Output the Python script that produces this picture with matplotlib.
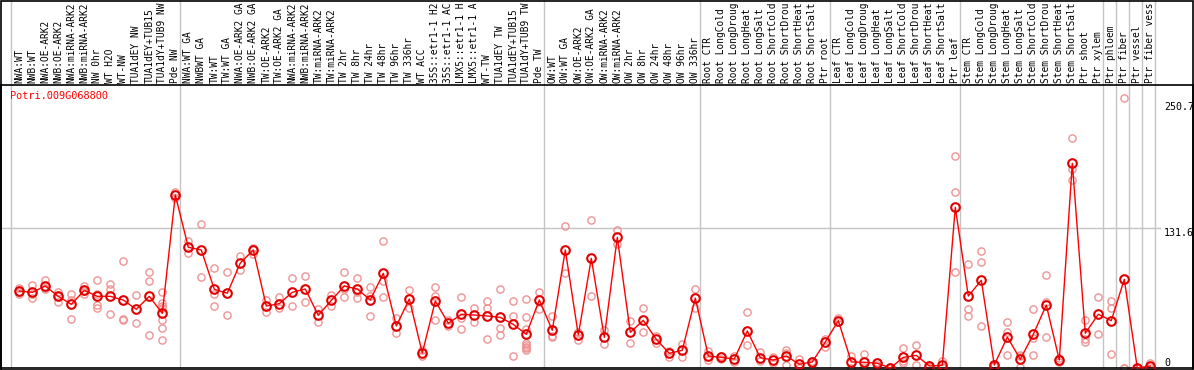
import matplotlib
matplotlib.use("Agg")
import matplotlib.pyplot as plt
from matplotlib.transforms import blended_transform_factory
from matplotlib.patches import Rectangle

title = "Potri.009G068800"

labels = [
    "NWA:WT", "NWB:WT", "NWA:OE-ARK2", "NWB:OE-ARK2", "NWA:miRNA-ARK2", "NWB:miRNA-ARK2",
    "NW 0hr", "WT H2O", "WT-NW", "TUA1dEY NW", "TUA1dEY+TUB15", "TUA1dY+TUB9 NW", "Pde NW",
    "NWA:WT GA", "NWBWT GA", "TW:WT", "TW:WT GA", "NWA:OE-ARK2 GA", "NWB:OE-ARK2 GA",
    "TW:OE-ARK2", "TW:OE-ARK2 GA", "NWA:miRNA-ARK2", "NWB:miRNA-ARK2", "TW:miRNA-ARK2",
    "TW:miRNA-ARK2", "TW 2hr", "TW 8hr", "TW 24hr", "TW 48hr", "TW 96hr", "TW 336hr",
    "WT ACC", "35S::etr1-1 H2", "35S::etr1-1 AC", "LMX5::etr1-1 H", "LMX5::etr1-1 A",
    "WT-TW", "TUA1dEY TW", "TUA1dEY+TUB15", "TUA1dY+TUB9 TW", "Pde TW",
    "OW:WT", "OW:WT GA", "OW:OE-ARK2", "OW:OE-ARK2 GA", "OW:miRNA-ARK2", "OW:miRNA-ARK2",
    "OW 2hr", "OW 8hr", "OW 24hr", "OW 48hr", "OW 96hr", "OW 336hr",
    "Root CTR", "Root LongCold", "Root LongDroug", "Root LongHeat", "Root LongSalt",
    "Root ShortCold", "Root ShortDrou", "Root ShortHeat", "Root ShortSalt", "Ptr root",
    "Leaf CTR", "Leaf LongCold", "Leaf LongDroug", "Leaf LongHeat", "Leaf LongSalt",
    "Leaf ShortCold", "Leaf ShortDrou", "Leaf ShortHeat", "Leaf ShortSalt", "Ptr leaf",
    "Stem CTR", "Stem LongCold", "Stem LongDroug", "Stem LongHeat", "Stem LongSalt",
    "Stem ShortCold", "Stem ShortDrou", "Stem ShortHeat", "Stem ShortSalt", "Ptr shoot",
    "Ptr xylem", "Ptr phloem", "Ptr fiber", "Ptr vessel", "Ptr fiber vess",
]

means = [
    72.5, 71.3, 77.2, 67.5, 60.0, 73.2, 67.5, 67.5, 64.0, 55.3, 67.5, 51.5, 163.0,
    113.7, 111.2, 74.1, 70.4, 98.9, 111.2, 58.4, 60.6, 71.3, 74.4, 49.6, 63.7, 77.2,
    74.4, 64.1, 89.2, 39.6, 65.0, 14.1, 63.1, 42.1, 50.6, 49.9, 49.0, 47.7, 41.1, 31.7,
    64.1,
    35.5, 111.2, 31.1, 103.3, 28.9, 123.1, 33.6, 44.9, 27.0, 13.8, 16.7, 65.9,
    11.3, 10.0, 8.5, 34.9, 9.7, 7.5, 11.3, 3.5, 5.7, 24.5,
    44.6, 5.7, 5.4, 4.4, 0.0, 10.0, 11.9, 1.9, 2.5, 151.4,
    67.8, 82.6, 2.8, 29.2, 8.2, 31.7, 59.3, 7.5, 192.8, 32.7,
    50.6, 44.6, 83.5, 0.0, 1.9,
]

replicates = [
    [75, 72, 70], [77.9, 66.2, 70], [82.9, 74.1, 75], [71.9, 62.5, 68], [69.7, 64.5, 45.9],
    [77.2, 69.7, 73], [82.9, 69.7, 59.3, 56.8], [79.1, 74.7, 50.6], [100.8, 45.9, 44.9],
    [68.5, 42.1], [90.4, 81.6, 31.1], [71.3, 60.9, 58.5, 56.5, 45.5, 37.4, 26.1], [166, 160],
    [119.6, 108.6], [135.3, 85.4], [93.9, 69.4, 58.1], [90.1, 49.6], [105.5, 92.0],
    [113.3, 107.4], [64.1, 52.4], [66.6, 56.8], [84.8, 58.4], [86.4, 61.9], [55.9, 43.0],
    [68.5, 58.1], [90.1, 74.7, 66.9], [84.8, 71.3, 65.6], [76.6, 67.8, 49.0],
    [119.6, 81.6, 66.6], [47.4, 32.7], [73.5, 56.8], [17.0, 11.3], [76.3, 68.1, 45.2],
    [45.2, 39.9], [66.9, 47.1, 36.7], [56.5, 43.6], [63.4, 56.2, 27.0], [74.1, 38.0, 31.1],
    [63.1, 49.0, 11.0], [65.0, 48.0, 36.4, 23.2, 21.5, 20.1, 18.5, 17.0], [71.3, 55.6],
    [49.0, 30.1, 28.9], [133.8, 89.2], [34.2, 26.4], [139.1, 67.5], [35.8, 22.3],
    [130.0, 116.8], [44.3, 23.8], [56.2, 33.6], [30.1, 23.2], [16.3, 10.6], [22.6, 10.0],
    [74.1, 56.8],
    [16.3, 7.5], [11.5, 8.5], [11.3, 5.3], [52.4, 21.7], [15.4, 6.9], [10.0, 4.4],
    [17.0, 13.8, 2.8], [8.2, 0.0], [6.9, 4.4], [27.6, 20.1],
    [47.4, 43.3], [11.3, 0.3], [13.2, 1.3], [5.7, 3.0], [0.5, 0.0], [18.5, 5.0, 6.5],
    [21.7, 2.6], [2.8, 0.5], [6.9, 1.3], [199.7, 165.5, 90.1],
    [97.7, 55.3, 49.0], [110.2, 99.6, 39.6], [4.0, 1.5], [43.0, 33.9, 11.9],
    [11.3, 1.3, 12.0], [55.3, 28.0, 11.9], [87.6, 61.9, 28.9], [9.5, 5.5],
    [216.4, 187.5, 177.1], [45.2, 27.3, 24.2],
    [66.6, 31.7], [63.1, 56.2, 13.2], [254.0, 0.0, 0.0], [0.0, 0.0], [4.4, 1.0],
]

group_starts = [0, 13, 41, 53, 63, 73, 84, 85, 86, 87, 88]
ytick_values = [250.7, 131.6, 0]
ytick_labels = ["250.7", "131.6", "0"]
grid_value = 131.6

W, H = 1194, 370
fig = plt.figure(figsize=(W / 100, H / 100), dpi=100)
fig.patch.set_facecolor("white")

# axes occupies pixel rows 85..368 (from top), columns 1..1193
ax = fig.add_axes([1 / W, 2 / H, 1192 / W, 283 / H])
ax.set_xlim(-1.408, 90.285)
ax.set_ylim(0, 266.6)
ax.set_xticks([])
ax.set_yticks([])
for s in ax.spines.values():
    s.set_linewidth(1.2)
    s.set_color("black")

mono = "DejaVu Sans Mono"
fs = 7.2
label_fs = 6.85

# gray separators spanning header and plot
for k in group_starts:
    ax.axvline(k - 0.62, ymin=0, ymax=368 / 283, color="#c4c4c4", lw=1.0,
               clip_on=False, zorder=1)
ax.axhline(grid_value, xmin=0, xmax=(1160 - 1) / 1192, color="#c4c4c4", lw=1.0, zorder=1)

x = list(range(len(means)))

# replicate points
rx, ry = [], []
for i, reps in enumerate(replicates):
    for v in reps:
        rx.append(i)
        ry.append(v)
ax.plot(rx, ry, linestyle="none", marker="o", ms=5.2, mfc="none",
        mec="#ee9494", mew=1.0, clip_on=False, zorder=2)

# mean line and points
ax.plot(x, means, color="#ff0000", lw=1.0, zorder=3, clip_on=False)
ax.plot(x, means, linestyle="none", marker="o", ms=6.2, mfc="none",
        mec="#e00000", mew=1.5, zorder=4, clip_on=False)

# header labels
tr = blended_transform_factory(ax.transData, ax.transAxes)
for i, lab in enumerate(labels):
    ax.text(i, (368 - 83) / 283, lab, transform=tr, rotation=90, ha="center",
            va="bottom", fontsize=label_fs, family=mono, color="black", clip_on=False)

# title
ax.text(-0.72, (368 - 96) / 283, title, transform=tr, ha="left", va="center",
        fontsize=fs + 0.2, family=mono, color="#ff0000")

# right-side value labels
for v, t in zip(ytick_values, ytick_labels):
    ax.text(88.05, v, t, ha="left", va="bottom" if v == 0 else "top",
            fontsize=fs, family=mono, color="black")

# outer frame
fig.add_artist(Rectangle((0.5 / W, 0.5 / H), (W - 1.5) / W, (H - 1) / H,
                         transform=fig.transFigure, fill=False, ec="black", lw=1.2))

fig.savefig("out.png", dpi=100)
